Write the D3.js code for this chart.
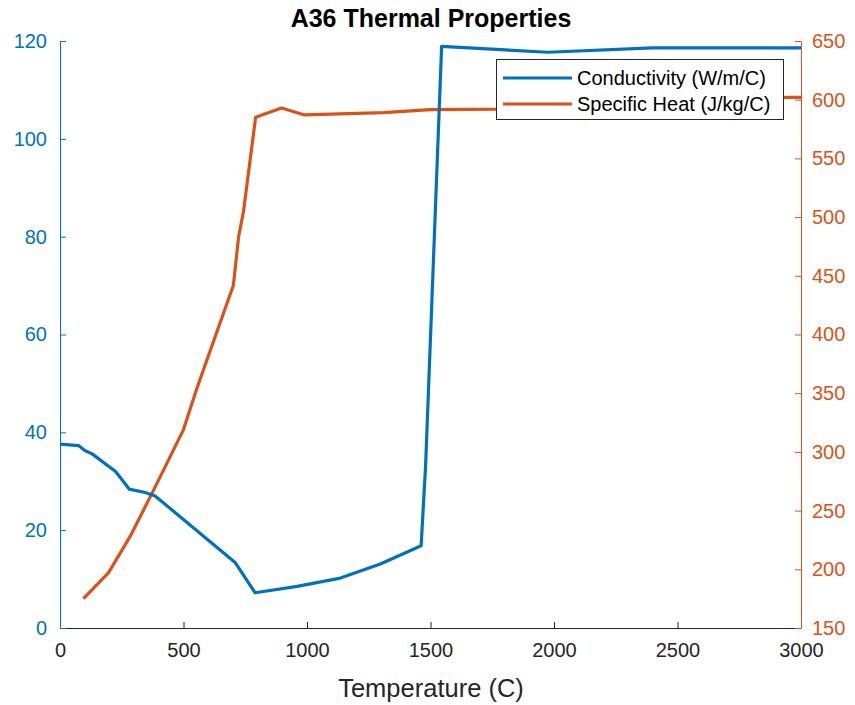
<!DOCTYPE html>
<html><head><meta charset="utf-8">
<script src="https://cdn.jsdelivr.net/npm/d3@7"></script>
<style>body{margin:0;background:#fff}svg{display:block;font-family:"Liberation Sans",Arial,sans-serif}</style>
</head><body>
<svg id="c" width="855" height="705"></svg>
<script>
const condT = [0, 75, 100, 130, 225, 280, 345, 385, 709, 790, 960, 1135, 1297, 1462, 1480, 1545, 1975, 2400, 3000];
const condK = [37.6, 37.3, 36.3, 35.6, 32.0, 28.4, 27.7, 27.0, 13.4, 7.2, 8.5, 10.2, 13.1, 16.8, 33, 118.9, 117.7, 118.6, 118.6];
const heatT = [95, 196, 284, 378, 446, 500, 554, 702, 723, 743, 792, 897, 990, 1310, 1500, 1770, 2200, 2600, 2950, 3000];
const heatC = [175, 197, 228, 267, 296, 319, 354, 442, 483, 505, 585, 593, 587, 589, 591.5, 592, 595, 598, 602, 602];
const xTicks = [0, 500, 1000, 1500, 2000, 2500, 3000];
const leftTicks = [0, 20, 40, 60, 80, 100, 120];
const rightTicks = [150, 200, 250, 300, 350, 400, 450, 500, 550, 600, 650];
const titleText = "A36 Thermal Properties";
const xLabel = "Temperature (C)";
const names = ["Conductivity (W/m/C)", "Specific Heat (J/kg/C)"];

const blue = "#0072BD", orange = "#D95319", dark = "#262626";
const L = 60, R = 801, T = 41, B = 628;
const svg = d3.select("#c");
const x = d3.scaleLinear().domain([0, 3000]).range([L, R]);
const yL = d3.scaleLinear().domain([0, 120]).range([B, T]);
const yR = d3.scaleLinear().domain([150, 650]).range([B, T]);

const cond = condT.map((t, i) => [t, condK[i]]);
const heat = heatT.map((t, i) => [t, heatC[i]]);
svg.append("path").datum(heat).attr("fill", "none").attr("stroke", orange).attr("stroke-width", 3.2)
  .attr("stroke-linejoin", "round").attr("d", d3.line().x(d => x(d[0])).y(d => yR(d[1])));
svg.append("path").datum(cond).attr("fill", "none").attr("stroke", blue).attr("stroke-width", 3.2)
  .attr("stroke-linejoin", "round").attr("d", d3.line().x(d => x(d[0])).y(d => yL(d[1])));

function styleAxis(g, color) {
  g.select(".domain").attr("stroke", color).attr("stroke-width", 1);
  g.selectAll(".tick line").attr("stroke", color);
  g.selectAll(".tick text").attr("fill", color).style("font-size", "20px").style("font-family", '"Liberation Sans",Arial,sans-serif');
}
const gx = svg.append("g").attr("transform", `translate(0,${B})`)
  .call(d3.axisBottom(x).tickValues(xTicks).tickFormat(d3.format("d")).tickSize(-6).tickSizeOuter(0).tickPadding(15));
styleAxis(gx, dark);
const gl = svg.append("g").attr("transform", `translate(${L},0)`)
  .call(d3.axisLeft(yL).tickValues(leftTicks).tickSize(-6).tickSizeOuter(0).tickPadding(13));
styleAxis(gl, blue);
const gr = svg.append("g").attr("transform", `translate(${R},0)`)
  .call(d3.axisRight(yR).tickValues(rightTicks).tickSize(-6).tickSizeOuter(0).tickPadding(11));
styleAxis(gr, orange);

svg.append("text").attr("x", 431).attr("y", 27).attr("text-anchor", "middle")
  .style("font-size", "25px").style("font-weight", "bold").attr("fill", "#000").text(titleText);
svg.append("text").attr("x", 431).attr("y", 697).attr("text-anchor", "middle")
  .style("font-size", "25.5px").attr("fill", dark).text(xLabel);

const lg = svg.append("g");
lg.append("rect").attr("x", 496.5).attr("y", 59.5).attr("width", 287).attr("height", 60)
  .attr("fill", "#fff").attr("stroke", dark).attr("stroke-width", 1);
[blue, orange].forEach((c, i) => {
  const yy = 78 + i * 26;
  lg.append("line").attr("x1", 503).attr("x2", 572).attr("y1", yy).attr("y2", yy)
    .attr("stroke", c).attr("stroke-width", 3.2);
  lg.append("text").attr("x", 577).attr("y", yy + 7).style("font-size", "20px").attr("fill", "#000").text(names[i]);
});
</script>
</body></html>
